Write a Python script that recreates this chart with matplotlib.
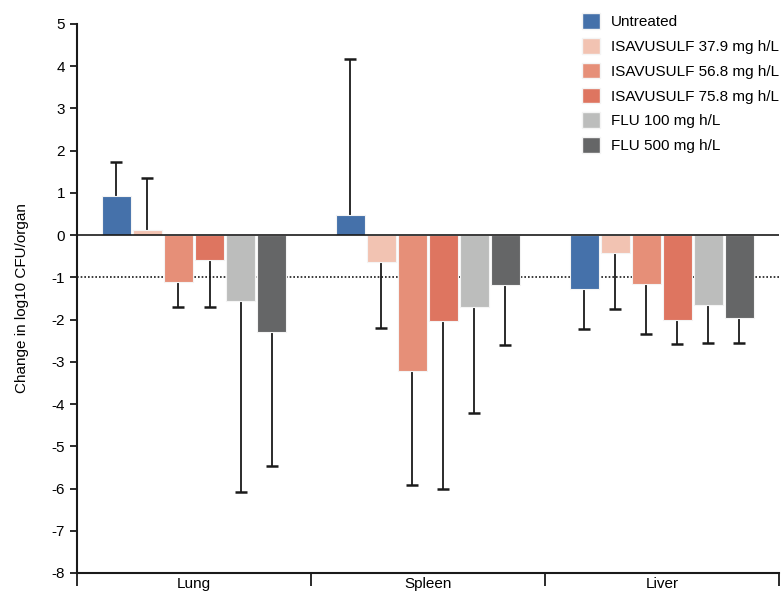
import numpy as np
import matplotlib
matplotlib.use('Agg')
import matplotlib.pyplot as plt
from matplotlib.patches import Patch

plt.rcParams['font.family'] = ['Liberation Sans', 'DejaVu Sans']
plt.rcParams['axes.unicode_minus'] = False

organs = ['Lung', 'Spleen', 'Liver']
groups = ['Untreated', 'ISAVUSULF 37.9 mg h/L', 'ISAVUSULF 56.8 mg h/L',
          'ISAVUSULF 75.8 mg h/L', 'FLU 100 mg h/L', 'FLU 500 mg h/L']
colors = ['#4571aa', '#f2c3b2', '#e68f78', '#de7560', '#bcbdbc', '#656667']

# mean change per organ (Lung, Spleen, Liver)
means = {
    'Untreated':             [0.93, 0.47, -1.27],
    'ISAVUSULF 37.9 mg h/L': [0.13, -0.64, -0.42],
    'ISAVUSULF 56.8 mg h/L': [-1.12, -3.22, -1.15],
    'ISAVUSULF 75.8 mg h/L': [-0.60, -2.04, -2.00],
    'FLU 100 mg h/L':        [-1.55, -1.71, -1.65],
    'FLU 500 mg h/L':        [-2.30, -1.18, -1.97],
}
# end of the error bar (drawn one-sided, away from zero)
err_end = {
    'Untreated':             [1.73, 4.18, -2.22],
    'ISAVUSULF 37.9 mg h/L': [1.35, -2.20, -1.75],
    'ISAVUSULF 56.8 mg h/L': [-1.70, -5.92, -2.33],
    'ISAVUSULF 75.8 mg h/L': [-1.70, -6.00, -2.57],
    'FLU 100 mg h/L':        [-6.08, -4.21, -2.55],
    'FLU 500 mg h/L':        [-5.47, -2.61, -2.55],
}

fig = plt.figure(figsize=(7.81, 5.95), dpi=100)
ax = fig.add_axes([0.0986, 0.037, 0.8988, 0.9227])

x = np.arange(len(organs))
step = 0.1325
width = 0.12
for i, g in enumerate(groups):
    pos = x + (i - 2.5) * step
    m = np.array(means[g])
    e = np.array(err_end[g])
    ax.bar(pos, m, width, color=colors[i], edgecolor='#f4f4f4', linewidth=0.8, zorder=2)
    ax.vlines(pos, m, e, color='#1a1a1a', lw=1.3, zorder=1)
    ax.plot(pos, e, ls='none', marker='_', ms=9, mew=1.8, color='#1a1a1a', zorder=1)

ax.axhline(0, color='#1a1a1a', lw=1.2, zorder=3)
ax.axhline(-1, color='#1a1a1a', lw=1.2, ls=(0, (1, 1.2)), zorder=0)

ax.set_xlim(-0.5, 2.5)
ax.set_ylim(-8, 5)
ax.set_yticks(range(-8, 6))
ax.set_xticks(x)
ax.set_xticklabels(organs, fontsize=11)
ax.set_xticks([-0.5, 0.5, 1.5, 2.5], minor=True)
ax.tick_params(axis='x', which='major', length=0, pad=3)
ax.tick_params(axis='x', which='minor', length=9, width=1.3, direction='out', color='#1a1a1a')
ax.tick_params(axis='y', labelsize=11, length=5, width=1.3, color='#1a1a1a')
for s in ['top', 'right']:
    ax.spines[s].set_visible(False)
for s in ['left', 'bottom']:
    ax.spines[s].set_linewidth(1.5)
    ax.spines[s].set_color('#1a1a1a')
ax.set_ylabel('Change in log10 CFU/organ', fontsize=11, labelpad=16)

handles = [Patch(facecolor=c, edgecolor='#f4f4f4') for c in colors]
ax.legend(handles, groups, loc='upper left', bbox_to_anchor=(0.7, 1.045),
          frameon=False, fontsize=11, handlelength=1.2, handleheight=1.2,
          handletextpad=0.7, labelspacing=0.58)

fig.savefig('out.png', dpi=100)
